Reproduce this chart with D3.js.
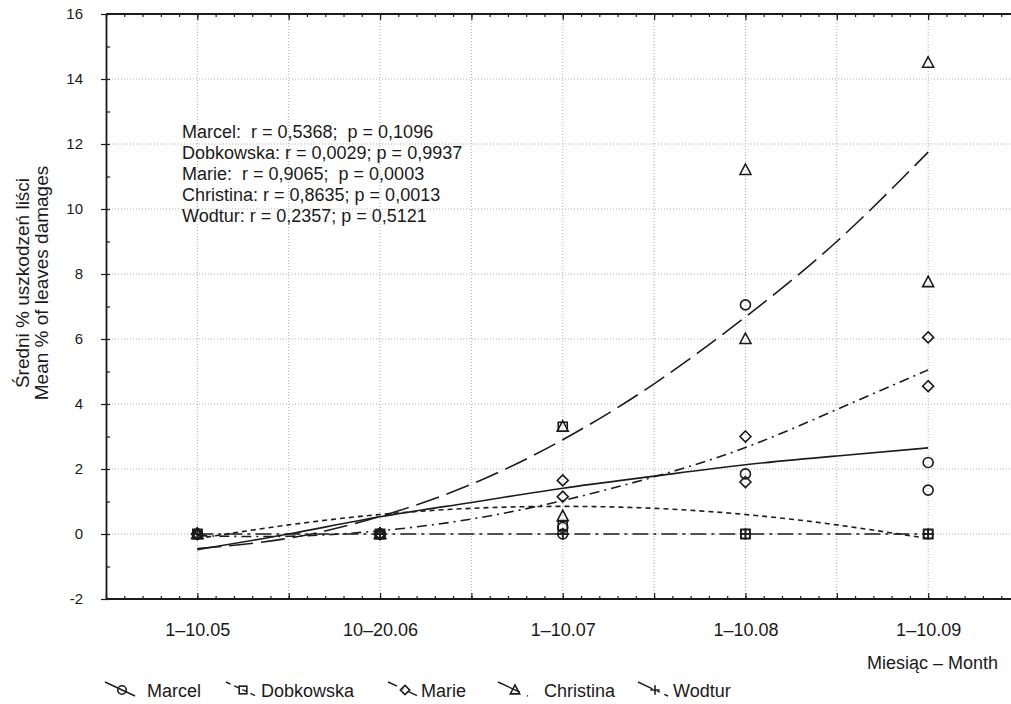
<!DOCTYPE html>
<html>
<head>
<meta charset="utf-8">
<script src="https://cdn.jsdelivr.net/npm/d3@7"></script>
<style>
  html, body { margin: 0; padding: 0; background: #fff; }
  svg { display: block; }
  text { font-family: "Liberation Sans", Arial, sans-serif; fill: #1a1a1a; }
</style>
</head>
<body>
<svg id="chart" width="1011" height="704"></svg>
<script>
// ---------------- data ----------------
const categories = ["1–10.05", "10–20.06", "1–10.07", "1–10.08", "1–10.09"];
const seriesNames = ["Marcel", "Dobkowska", "Marie", "Christina", "Wodtur"];

// two observations per month for each series
const marcelA    = [0, 0, 0.2, 7.05, 2.2];
const marcelB    = [0, 0, 0,   1.85, 1.35];
const dobkowskaA = [0, 0, 3.3, 0, 0];
const dobkowskaB = [0, 0, 0.25, 0, 0];
const marieA     = [0, 0, 1.65, 3.0, 6.05];
const marieB     = [0, 0, 1.15, 1.6, 4.55];
const christinaA = [0, 0, 3.3, 11.2, 14.5];
const christinaB = [0, 0, 0.55, 6.0, 7.75];
const wodturA    = [0, 0, 0, 0, 0];
const wodturB    = [0, 0, 0, 0, 0];

// fitted curves, read at half-month steps (category index 0, 0.5, ... 4)
const fitPositions  = [0, 0.5, 1, 1.5, 2, 2.5, 3, 3.5, 4];
const marcelFit     = [-0.48, 0.0, 0.53, 0.97, 1.41, 1.78, 2.13, 2.4, 2.65];
const dobkowskaFit  = [-0.14, 0.28, 0.6, 0.79, 0.85, 0.79, 0.6, 0.28, -0.14];
const marieFit      = [-0.05, -0.07, 0.1, 0.46, 1.03, 1.76, 2.66, 3.83, 5.05];
const christinaFit  = [-0.45, -0.13, 0.54, 1.53, 2.9, 4.62, 6.68, 9.0, 11.75];
const wodturFit     = [0, 0, 0, 0, 0, 0, 0, 0, 0];

const yTicks = [-2, 0, 2, 4, 6, 8, 10, 12, 14, 16];

const statLines = [
  "Marcel:  r = 0,5368;  p = 0,1096",
  "Dobkowska: r = 0,0029; p = 0,9937",
  "Marie:  r = 0,9065;  p = 0,0003",
  "Christina: r = 0,8635; p = 0,0013",
  "Wodtur: r = 0,2357; p = 0,5121"
];

const yTitle1 = "Średni % uszkodzeń liści";
const yTitle2 = "Mean % of leaves damages";
const xTitle = "Miesiąc – Month";

// ---------------- styling ----------------
const markerTypes = ["circle", "square", "diamond", "triangle", "plus"];
const dashes = [null, "5,4", "10,5,2,5", "24,8", "16,5,3,5"];
const ink = "#1c1c1c";

const series = [
  {a: marcelA, b: marcelB, fit: marcelFit},
  {a: dobkowskaA, b: dobkowskaB, fit: dobkowskaFit},
  {a: marieA, b: marieB, fit: marieFit},
  {a: christinaA, b: christinaB, fit: christinaFit},
  {a: wodturA, b: wodturB, fit: wodturFit}
].map((s, i) => ({...s, name: seriesNames[i], marker: markerTypes[i], dash: dashes[i]}));

// ---------------- layout ----------------
const svg = d3.select("#chart");
svg.append("rect").attr("width", 1011).attr("height", 704).attr("fill", "#fff");

const x = d3.scaleLinear().domain([-0.5, 4.5]).range([106, 1019.5]);
const y = d3.scaleLinear().domain([-2, 16]).range([599, 14]);
const pLeft = 106, pRight = 1011, pTop = 14, pBottom = 599;

svg.append("defs").append("clipPath").attr("id", "plotclip")
  .append("rect").attr("x", pLeft).attr("y", pTop - 2).attr("width", pRight - pLeft).attr("height", pBottom - pTop + 4);

// grid
const grid = svg.append("g").attr("clip-path", "url(#plotclip)");
grid.selectAll(".vg").data(d3.range(0, 4.51, 0.5)).enter().append("line")
  .attr("x1", d => x(d)).attr("x2", d => x(d))
  .attr("y1", pTop).attr("y2", pBottom)
  .attr("stroke", "#b0b0b0").attr("stroke-width", 1).attr("stroke-dasharray", "1,2");
grid.selectAll(".hg").data(yTicks.filter(v => v > -2 && v < 16)).enter().append("line")
  .attr("x1", pLeft).attr("x2", pRight)
  .attr("y1", d => y(d)).attr("y2", d => y(d))
  .attr("stroke", "#b0b0b0").attr("stroke-width", 1).attr("stroke-dasharray", "1,2");

// axes
function styleAxis(g) {
  g.selectAll("path.domain").attr("stroke", ink).attr("stroke-width", 1.8);
  g.selectAll(".tick line").attr("stroke", ink).attr("stroke-width", 1.2);
}
const minorX = d3.range(-5, 46).map(k => k / 10);
const majorX = d3.range(-1, 10).map(k => k / 2);

// left axis with labels
const yAxis = svg.append("g").attr("transform", `translate(${pLeft},0)`)
  .call(d3.axisLeft(y).tickValues(yTicks).tickSize(5).tickSizeOuter(0).tickPadding(18)
    .tickFormat(d => String(d)));
yAxis.selectAll("text").style("font-size", "15px").attr("fill", ink);
styleAxis(yAxis);
const yMinor = svg.append("g").attr("transform", `translate(${pLeft},0)`)
  .call(d3.axisLeft(y).tickValues(d3.range(-2, 17, 1)).tickSize(-4).tickSizeOuter(0).tickFormat(""));
styleAxis(yMinor);
yMinor.select("path.domain").remove();

// bottom axis
const xAxis = svg.append("g").attr("transform", `translate(0,${pBottom})`)
  .call(d3.axisBottom(x).tickValues(d3.range(0, 5)).tickSize(0).tickSizeOuter(0).tickPadding(24)
    .tickFormat(i => categories[i]));
xAxis.selectAll("text").style("font-size", "18px").attr("fill", ink);
xAxis.select("path.domain").attr("d", `M${pLeft},0H${pRight}`);
styleAxis(xAxis);
const xMinorB = svg.append("g").attr("transform", `translate(0,${pBottom})`)
  .call(d3.axisBottom(x).tickValues(minorX).tickSize(-3).tickSizeOuter(0).tickFormat(""));
xMinorB.select("path.domain").remove(); styleAxis(xMinorB);
const xMajorB = svg.append("g").attr("transform", `translate(0,${pBottom})`)
  .call(d3.axisBottom(x).tickValues(majorX).tickSize(-6).tickSizeOuter(0).tickFormat(""));
xMajorB.select("path.domain").remove(); styleAxis(xMajorB);

// top frame with ticks
const xTop = svg.append("g").attr("transform", `translate(0,${pTop})`)
  .call(d3.axisTop(x).tickValues(minorX).tickSize(-3).tickSizeOuter(0).tickFormat(""));
xTop.select("path.domain").attr("d", `M${pLeft},0H${pRight}`);
styleAxis(xTop);
const xTopMaj = svg.append("g").attr("transform", `translate(0,${pTop})`)
  .call(d3.axisTop(x).tickValues(majorX).tickSize(-6).tickSizeOuter(0).tickFormat(""));
xTopMaj.select("path.domain").remove(); styleAxis(xTopMaj);
[xMinorB, xMajorB, xTop, xTopMaj].forEach(g =>
  g.selectAll(".tick").filter(d => x(d) < pLeft - 0.5 || x(d) > pRight).remove());

// marker drawing
function marker(g, type, cx, cy, s) {
  s = s || 1;
  let el;
  if (type === "circle") el = g.append("circle").attr("cx", cx).attr("cy", cy).attr("r", 5 * s);
  else if (type === "square") el = g.append("rect").attr("x", cx - 4.5 * s).attr("y", cy - 4.5 * s)
    .attr("width", 9 * s).attr("height", 9 * s);
  else if (type === "diamond") el = g.append("path")
    .attr("d", `M${cx},${cy - 5.5 * s}L${cx + 5.5 * s},${cy}L${cx},${cy + 5.5 * s}L${cx - 5.5 * s},${cy}Z`);
  else if (type === "triangle") el = g.append("path")
    .attr("d", `M${cx},${cy - 6 * s}L${cx + 5.5 * s},${cy + 4.5 * s}L${cx - 5.5 * s},${cy + 4.5 * s}Z`);
  else el = g.append("path")
    .attr("d", `M${cx - 5.5 * s},${cy}H${cx + 5.5 * s}M${cx},${cy - 5.5 * s}V${cy + 5.5 * s}`);
  el.attr("fill", "none").attr("stroke", ink).attr("stroke-width", 1.6);
}

// fit lines
const plot = svg.append("g").attr("clip-path", "url(#plotclip)");
const lineGen = d3.line().x(d => x(d[0])).y(d => y(d[1])).curve(d3.curveNatural);
series.forEach(s => {
  const pts = fitPositions.map((p, i) => [p, s.fit[i]]);
  plot.append("path").attr("d", lineGen(pts))
    .attr("fill", "none").attr("stroke", ink).attr("stroke-width", 1.6)
    .attr("stroke-dasharray", s.dash);
});

// points
series.forEach(s => {
  [s.a, s.b].forEach(arr => arr.forEach((v, i) => marker(plot, s.marker, x(i), y(v))));
});

// statistics text
const stats = svg.append("g");
statLines.forEach((t, i) => {
  stats.append("text").attr("x", 182).attr("y", 138 + i * 20.9)
    .attr("xml:space", "preserve").style("white-space", "pre")
    .style("font-size", "18px").text(t);
});

// axis titles
svg.append("text")
  .attr("transform", "translate(29,283) rotate(-90)")
  .attr("text-anchor", "middle").style("font-size", "19px").text(yTitle1);
svg.append("text")
  .attr("transform", "translate(48,283) rotate(-90)")
  .attr("text-anchor", "middle").style("font-size", "19px").text(yTitle2);
svg.append("text").attr("x", 998).attr("y", 669).attr("text-anchor", "end")
  .style("font-size", "18px").text(xTitle);

// legend
const legendPos = [
  {m: 122, t: 147}, {m: 243, t: 261}, {m: 405, t: 421}, {m: 515, t: 544}, {m: 655, t: 673}
];
const legY = 690;
const leg = svg.append("g");
series.forEach((s, i) => {
  const p = legendPos[i];
  leg.append("line")
    .attr("x1", p.m - 17).attr("y1", legY - 8).attr("x2", p.m + 13).attr("y2", legY + 6)
    .attr("stroke", ink).attr("stroke-width", 1.4).attr("stroke-dasharray", s.dash);
  marker(leg, s.marker, p.m, legY, 0.85);
  leg.append("text").attr("x", p.t).attr("y", legY + 7).style("font-size", "18px").text(s.name);
});
</script>
</body>
</html>
